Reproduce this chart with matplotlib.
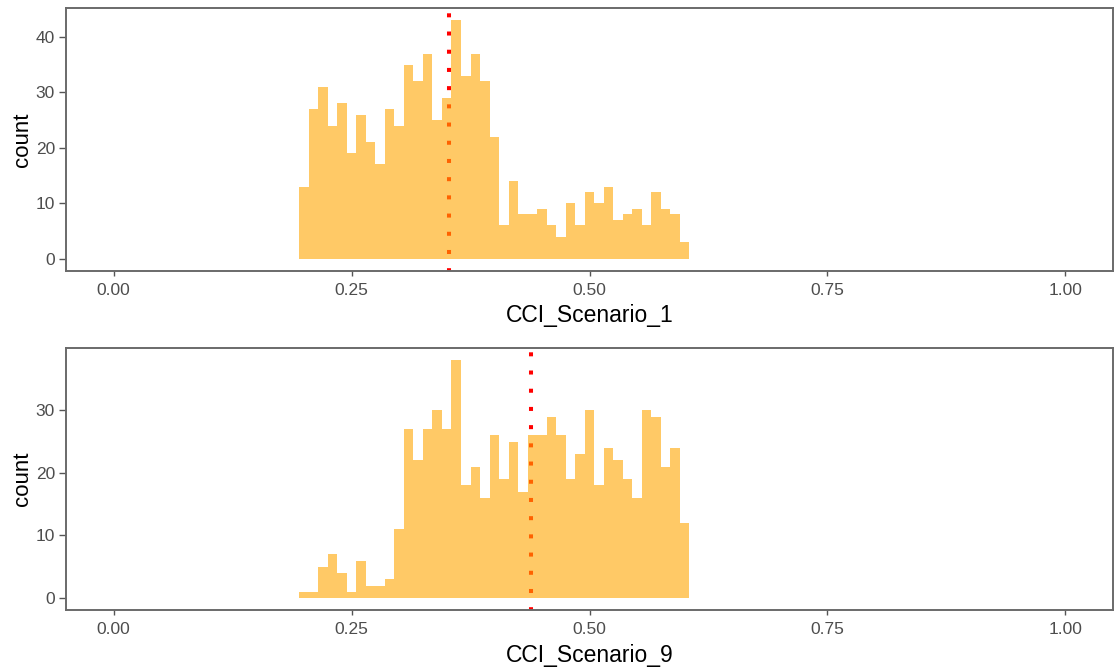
import numpy as np
import matplotlib
matplotlib.use("Agg")
import matplotlib.pyplot as plt

plt.rcParams["font.family"] = ["Liberation Sans", "DejaVu Sans"]

# Histogram bins: centres 0.20 ... 0.60, width 0.01
bin_centers = np.round(np.arange(0.20, 0.6001, 0.01), 2)
bin_width = 0.01

counts_s1 = [13, 27, 31, 24, 28, 19, 26, 21, 17, 27,
             24, 35, 32, 37, 25, 29, 43, 33, 37, 32,
             22, 6, 14, 8, 8, 9, 6, 4, 10, 6,
             12, 10, 13, 7, 8, 9, 6, 12, 9, 8, 3]
counts_s9 = [1, 1, 5, 7, 4, 1, 6, 2, 2, 3,
             11, 27, 22, 27, 30, 27, 38, 18, 21, 16,
             26, 19, 25, 17, 26, 26, 29, 26, 19, 23,
             30, 18, 24, 22, 19, 16, 30, 29, 21, 24, 12]

means = [0.352, 0.439]
titles = ["CCI_Scenario_1", "CCI_Scenario_9"]
x_ticks = [0.00, 0.25, 0.50, 0.75, 1.00]
x_ticklabels = ["0.00", "0.25", "0.50", "0.75", "1.00"]

W, H = 1116, 671
fig = plt.figure(figsize=(W / 100, H / 100), dpi=100)

# axes boxes in pixels: (left, top, right, bottom)
boxes = [(66, 8.3, 1113, 270.7), (66, 348.3, 1113, 610)]

for counts, mean, title, (l, t, r, b) in zip([counts_s1, counts_s9], means, titles, boxes):
    ax = fig.add_axes([l / W, 1 - b / H, (r - l) / W, (b - t) / H])
    ymax = max(counts)
    ax.axvline(mean, color="#FF0000", linewidth=2.9,
               linestyle=(0.3, (1, 3.52)), dash_capstyle="butt", zorder=1)
    ax.bar(bin_centers, counts, width=bin_width, color="#FFA500", alpha=0.6,
           edgecolor="none", linewidth=0, zorder=2)
    ax.set_xlim(-0.05, 1.05)
    ax.set_ylim(-0.05 * ymax, 1.05 * ymax)
    ax.set_xticks(x_ticks)
    ax.set_xticklabels(x_ticklabels)
    ax.set_yticks(np.arange(0, ymax + 1, 10))
    for s in ax.spines.values():
        s.set_color("#6a6a6a")
        s.set_linewidth(1.4)
    ax.tick_params(axis="x", length=3.5, width=1.0, color="#555555",
                   labelsize=12.5, labelcolor="#4D4D4D", pad=5)
    ax.tick_params(axis="y", length=5, width=1.0, color="#555555",
                   labelsize=12.5, labelcolor="#4D4D4D", pad=3)
    ax.set_xlabel(title, fontsize=16.5, color="black", labelpad=5)
    ax.set_ylabel("count", fontsize=16, color="black", labelpad=2)
    ax.set_facecolor("white")

fig.savefig("out.png", dpi=100, facecolor="white")
